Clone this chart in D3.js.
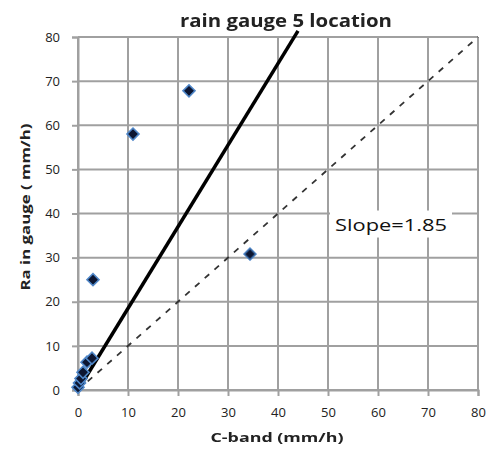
<!DOCTYPE html>
<html><head><meta charset="utf-8">
<script src="https://cdn.jsdelivr.net/npm/d3@7"></script>
<style>body{margin:0;background:#fff;}</style>
</head><body>
<script>
const cbandValues = [0, 0.3, 0.6, 1.0, 1.8, 2.8, 3.0, 11.0, 22.2, 34.4];
const gaugeValues = [0.6, 1.6, 2.6, 4.0, 6.3, 7.2, 25.0, 58.0, 67.8, 30.8];
const tickValues = [0, 10, 20, 30, 40, 50, 60, 70, 80];
const slope = 1.85;
const fitRange = [0, 44];
const titleText = "rain gauge 5 location";
const xTitle = "C-band  (mm/h)";
const yTitle = "Ra in gauge ( mm/h)";
const slopeLabel = "Slope=1.85";

const W = 487, H = 449;
const svg = d3.select("body").append("svg").attr("width", W).attr("height", H);
const x = d3.scaleLinear().domain([0, 80]).range([78, 478]);
const y = d3.scaleLinear().domain([0, 80]).range([390, 37]);
const font = "'Open Sans', 'Liberation Sans', sans-serif";
const gridC = "#a0a0a0";

const defs = svg.append("defs");
defs.append("filter").attr("id", "soft").append("feGaussianBlur").attr("stdDeviation", 0.6);

// grid
svg.append("g").selectAll("line.v").data(tickValues).join("line")
  .attr("x1", d => x(d)).attr("x2", d => x(d)).attr("y1", y(0)).attr("y2", y(80))
  .attr("stroke", gridC).attr("stroke-width", 2);
svg.append("g").selectAll("line.h").data(tickValues).join("line")
  .attr("y1", d => y(d)).attr("y2", d => y(d)).attr("x1", x(0)).attr("x2", x(80))
  .attr("stroke", gridC).attr("stroke-width", 2);

// axes
const xAxis = d3.axisBottom(x).tickValues(tickValues).tickSize(6).tickPadding(12);
const gx = svg.append("g").attr("transform", `translate(0,${y(0)})`).call(xAxis);
const yAxis = d3.axisLeft(y).tickValues(tickValues).tickSize(6).tickPadding(12);
const gy = svg.append("g").attr("transform", `translate(${x(0)},0)`).call(yAxis);
[gx, gy].forEach(g => {
  g.select(".domain").attr("stroke", gridC).attr("stroke-width", 2);
  g.selectAll(".tick line").attr("stroke", gridC).attr("stroke-width", 2);
  g.selectAll(".tick text").attr("font-family", font).attr("font-size", 13).attr("fill", "#222");
});

// 1:1 dashed line
svg.append("line").attr("x1", x(0)).attr("y1", y(0)).attr("x2", x(80)).attr("y2", y(80))
  .attr("stroke", "#333").attr("stroke-width", 1.8).attr("stroke-dasharray", "6,7");

// slope label with white background
const lbl = svg.append("g");
const lt = lbl.append("text").attr("x", x(51.4)).attr("y", y(37.5) + 6)
  .attr("font-family", font).attr("font-size", 17).attr("fill", "#111")
  .attr("textLength", 112).attr("lengthAdjust", "spacingAndGlyphs").text(slopeLabel);
const bb = lt.node().getBBox();
lbl.insert("rect", "text").attr("x", bb.x - 5).attr("y", bb.y - 2).attr("width", bb.width + 10).attr("height", bb.height + 4).attr("fill", "#fff");

// fit line
svg.append("line").attr("x1", x(fitRange[0])).attr("y1", y(slope * fitRange[0]))
  .attr("x2", x(fitRange[1])).attr("y2", y(slope * fitRange[1]))
  .attr("stroke", "#000").attr("stroke-width", 3.5);

// points
const data = cbandValues.map((v, i) => ({x: v, y: gaugeValues[i]}));
svg.append("g").attr("filter", "url(#soft)").selectAll("path").data(data).join("path")
  .attr("d", d3.symbol().type(d3.symbolSquare).size(72))
  .attr("transform", d => `translate(${x(d.x)},${y(d.y)}) rotate(45)`)
  .attr("fill", "#0b1630").attr("stroke", "#4f86c8").attr("stroke-width", 1.6);

// titles
svg.append("text").attr("x", 286).attr("y", 27).attr("text-anchor", "middle")
  .attr("font-family", font).attr("font-weight", "bold").attr("font-size", 18).attr("fill", "#222")
  .attr("textLength", 212).attr("lengthAdjust", "spacingAndGlyphs").text(titleText);
svg.append("text").attr("x", 277).attr("y", 442).attr("text-anchor", "middle")
  .attr("font-family", font).attr("font-weight", "bold").attr("font-size", 13).attr("fill", "#222")
  .attr("textLength", 133).attr("lengthAdjust", "spacingAndGlyphs").text(xTitle);
svg.append("text").attr("transform", "translate(30,207) rotate(-90)").attr("text-anchor", "middle")
  .attr("font-family", font).attr("font-weight", "bold").attr("font-size", 13).attr("fill", "#222")
  .attr("textLength", 167).attr("lengthAdjust", "spacingAndGlyphs").text(yTitle);
</script>
</body></html>
